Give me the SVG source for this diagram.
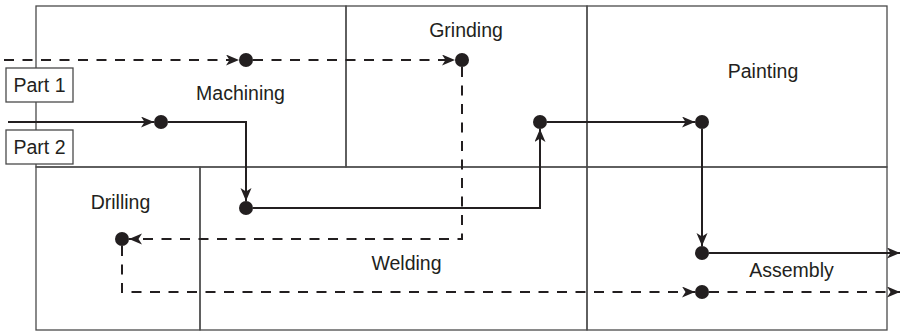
<svg xmlns="http://www.w3.org/2000/svg" width="900" height="333" viewBox="0 0 900 333">
<defs>
<style>
.area{fill:none;stroke:#4a4a4a;stroke-width:1.3}
.lbl{font-family:"Liberation Sans",Arial,sans-serif;font-size:19.5px;fill:#231f20;text-anchor:middle}
.part{fill:#fff;stroke:#4a4a4a;stroke-width:1.3}
.flow{fill:none;stroke:#231f20;stroke-width:2}
.dash{stroke-dasharray:10 8.5}
.dot{fill:#231f20}
</style>
<marker id="arr" markerUnits="userSpaceOnUse" markerWidth="14" markerHeight="12" refX="13" refY="5.5" orient="auto">
<path d="M0,0 L13,5.5 L0,11 L3.5,5.5 z" fill="#231f20"/>
</marker>
</defs>
<rect width="900" height="333" fill="#fff"/>
<g id="machining"><rect class="area" x="36" y="6" width="310" height="161"/><text class="lbl" x="240.5" y="100">Machining</text></g>
<g id="grinding"><rect class="area" x="346" y="6" width="241" height="161"/><text class="lbl" x="466" y="37">Grinding</text></g>
<g id="painting"><rect class="area" x="587" y="6" width="300" height="161"/><text class="lbl" x="763" y="78">Painting</text></g>
<g id="drilling"><rect class="area" x="36" y="167" width="164" height="163"/><text class="lbl" x="120.5" y="209">Drilling</text></g>
<g id="welding"><rect class="area" x="200" y="167" width="387" height="163"/><text class="lbl" x="406.5" y="270">Welding</text></g>
<g id="assembly"><rect class="area" x="587" y="167" width="300" height="163"/><text class="lbl" x="791.5" y="277">Assembly</text></g>
<g id="connectors">
<path class="flow" d="M8,122 H154" marker-end="url(#arr)"/>
<path class="flow" d="M168,122 H246 V201" marker-end="url(#arr)"/>
<path class="flow" d="M253,208 H540 V129" marker-end="url(#arr)"/>
<path class="flow" d="M547,122 H695" marker-end="url(#arr)"/>
<path class="flow" d="M702,129 V246" marker-end="url(#arr)"/>
<path class="flow" d="M709,253 H900" marker-end="url(#arr)"/>
<path class="flow dash" d="M4,60 H239" marker-end="url(#arr)"/>
<path class="flow dash" d="M253,60 H455" marker-end="url(#arr)"/>
<path class="flow dash" d="M462,67 V239 H129" marker-end="url(#arr)"/>
<path class="flow dash" d="M122,246 V292 H695" marker-end="url(#arr)"/>
<path class="flow dash" d="M709,292 H900" marker-end="url(#arr)"/>
</g>
<g id="part1"><rect class="part" x="6" y="68" width="67" height="34"/><text class="lbl" x="39.5" y="92">Part 1</text></g>
<g id="part2"><rect class="part" x="6" y="130" width="67" height="34"/><text class="lbl" x="39.5" y="154">Part 2</text></g>
<g id="stations">
<circle class="dot" cx="246" cy="60" r="7"/>
<circle class="dot" cx="462" cy="60" r="7"/>
<circle class="dot" cx="161" cy="122" r="7"/>
<circle class="dot" cx="246" cy="208" r="7"/>
<circle class="dot" cx="540" cy="122" r="7"/>
<circle class="dot" cx="702" cy="122" r="7"/>
<circle class="dot" cx="702" cy="253" r="7"/>
<circle class="dot" cx="122" cy="239" r="7"/>
<circle class="dot" cx="702" cy="292" r="7"/>
</g>
</svg>
